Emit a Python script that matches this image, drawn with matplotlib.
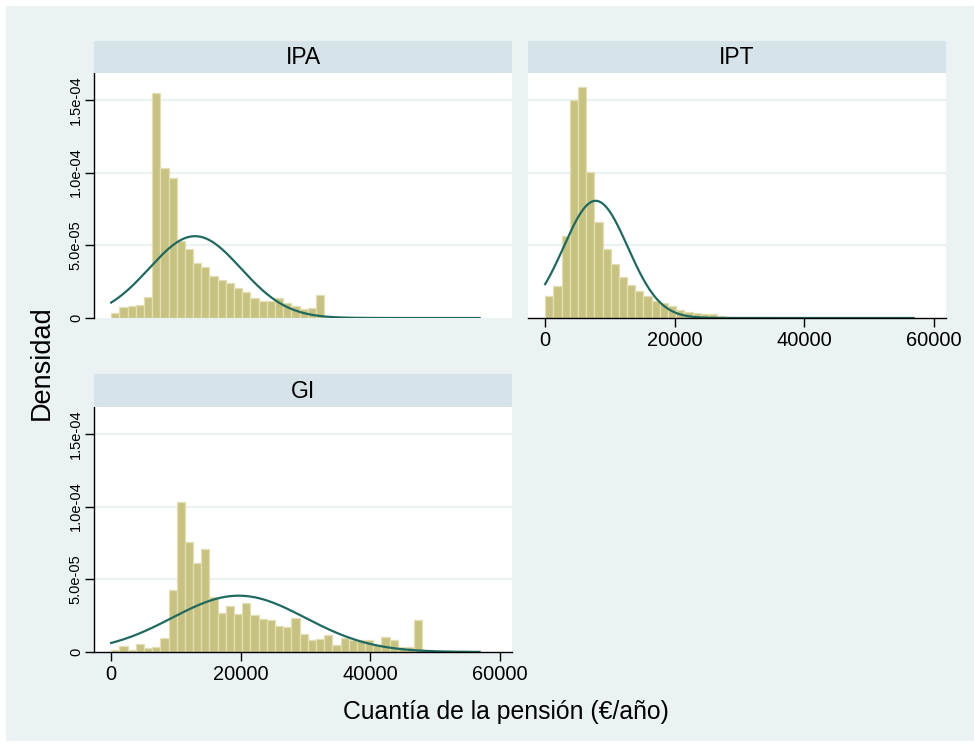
import numpy as np
import matplotlib
matplotlib.use("Agg")
import matplotlib.pyplot as plt
from matplotlib.patches import Rectangle

plt.rcParams['font.family'] = ['Liberation Sans', 'DejaVu Sans']

# ---------------- data ----------------
groups = ["IPA", "IPT", "GI"]
bin_start = 0
bin_width = 1265
n_bins = 45

ipa_density = [3.4e-6, 7.3e-6, 8.5e-6, 9.2e-6, 1.42e-5, 1.55e-4, 1.031e-4, 9.62e-5,
               5.33e-5, 4.75e-5, 3.76e-5, 3.54e-5, 2.92e-5, 2.64e-5, 2.39e-5, 2.07e-5,
               1.77e-5, 1.35e-5, 1.19e-5, 1.19e-5, 1.35e-5, 1.03e-5, 8.0e-6, 6.4e-6,
               6.9e-6, 1.61e-5, 4e-7, 3e-7, 2e-7, 2e-7, 1e-7, 1e-7, 1e-7, 0, 0,
               0, 0, 0, 0, 0, 0, 0, 0, 0, 0]
ipt_density = [1.54e-5, 2.18e-5, 5.65e-5, 1.501e-4, 1.589e-4, 1.003e-4, 6.63e-5, 4.75e-5,
               3.74e-5, 2.84e-5, 2.26e-5, 1.86e-5, 1.49e-5, 1.19e-5, 1.0e-5, 8.1e-6,
               5.7e-6, 4.1e-6, 3.2e-6, 3.0e-6, 2.6e-6, 1.6e-6, 1.0e-6, 7e-7, 6e-7,
               5e-7, 4e-7, 4e-7, 3e-7, 3e-7, 3e-7, 2e-7, 2e-7, 2e-7, 2e-7, 2e-7,
               1e-7, 2e-7, 1e-7, 1e-7, 1e-7, 1e-7, 1e-7, 0, 0]
gi_density = [1.6e-6, 4.4e-6, 1.6e-6, 5.7e-6, 3.0e-6, 3.4e-6, 9.6e-6, 4.29e-5,
              1.031e-4, 7.58e-5, 6.13e-5, 7.09e-5, 3.79e-5, 2.71e-5, 3.17e-5, 2.62e-5,
              3.37e-5, 2.53e-5, 2.25e-5, 2.18e-5, 1.79e-5, 1.70e-5, 2.36e-5, 1.24e-5,
              8.0e-6, 8.7e-6, 1.15e-5, 4.6e-6, 9.4e-6, 8.5e-6, 8.5e-6, 8.0e-6,
              4.5e-6, 1.03e-5, 8.0e-6, 3.4e-6, 3.4e-6, 2.18e-5, 1.6e-6, 8e-7,
              3e-7, 2e-7, 1e-7, 0, 0]
densities = {"IPA": ipa_density, "IPT": ipt_density, "GI": gi_density}

# normal overlay: (mean, sd)
normal_mean = {"IPA": 12950, "IPT": 7800, "GI": 19700}
normal_sd = {"IPA": 7090, "IPT": 4950, "GI": 10300}
curve_min, curve_max = 0, 56900

x_ticks = [0, 20000, 40000, 60000]
x_tick_labels = ["0", "20000", "40000", "60000"]
y_ticks = [0, 5e-5, 1e-4, 1.5e-4]
y_tick_labels = ["0", "5.0e-05", "1.0e-04", "1.5e-04"]
x_label = "Cuantía de la pensión (€/año)"
y_label = "Densidad"

# ---------------- style ----------------
W, H = 974, 747
BG = "#EAF2F3"
STRIP = "#D6E4E9"
GRID = "#EAF2F3"
BAR = "#C8C280"
BAR_EDGE = "#E2DFB6"
LINE = "#1F6A60"
XLIM = (-2650, 61900)
YLIM = (0, 1.685e-4)

fig = plt.figure(figsize=(W / 100, H / 100), dpi=100)
fig.patch.set_facecolor("white")
fig.patches.append(Rectangle((6 / W, 1 - 741 / H), (974 - 6) / W, (741 - 6) / H,
                             transform=fig.transFigure, facecolor=BG, edgecolor="none",
                             zorder=-10))


def fbox(x0, y0, x1, y1):
    return [x0 / W, 1 - y1 / H, (x1 - x0) / W, (y1 - y0) / H]


panels = {
    "IPA": dict(plot=(94, 73, 512, 318), strip=(94, 41, 512, 73), left=True, bottom=False),
    "IPT": dict(plot=(528, 73, 946, 318), strip=(528, 41, 946, 73), left=False, bottom=True),
    "GI": dict(plot=(94, 407, 512, 652), strip=(94, 374, 512, 407), left=True, bottom=True),
}

for g in groups:
    p = panels[g]
    ax = fig.add_axes(fbox(*p["plot"]))
    ax.set_facecolor("white")
    lefts = bin_start + bin_width * np.arange(n_bins)
    ax.bar(lefts, densities[g], width=bin_width, align="edge", color=BAR,
           edgecolor=BAR_EDGE, linewidth=0.9, zorder=2)
    xs = np.linspace(curve_min, curve_max, 600)
    m, s = normal_mean[g], normal_sd[g]
    ys = np.exp(-0.5 * ((xs - m) / s) ** 2) / (s * np.sqrt(2 * np.pi))
    ax.plot(xs, ys, color=LINE, linewidth=1.6, zorder=3)
    ax.set_xlim(*XLIM)
    ax.set_ylim(*YLIM)
    for yt in y_ticks[1:]:
        ax.axhline(yt, color=GRID, linewidth=1.6, zorder=1)
    for side in ["top", "right"]:
        ax.spines[side].set_visible(False)
    ax.spines["left"].set_visible(p["left"])
    ax.spines["bottom"].set_visible(p["bottom"])
    ax.spines["left"].set_linewidth(1.0)
    ax.spines["bottom"].set_linewidth(1.0)
    ax.spines["bottom"].set_zorder(4)
    if p["left"]:
        ax.set_yticks(y_ticks)
        ax.set_yticklabels(y_tick_labels, rotation=90, va="center", fontsize=10.5)
        ax.tick_params(axis="y", length=6.5, width=1.0, pad=1.5)
    else:
        ax.set_yticks([])
    if p["bottom"]:
        ax.set_xticks(x_ticks)
        ax.set_xticklabels(x_tick_labels, fontsize=14.4)
        ax.tick_params(axis="x", length=6.5, width=1.0, pad=3)
    else:
        ax.set_xticks([])

    sax = fig.add_axes(fbox(*p["strip"]))
    sax.set_facecolor(STRIP)
    sax.set_xticks([])
    sax.set_yticks([])
    for sp in sax.spines.values():
        sp.set_visible(False)
    sax.text(0.5, 0.47, g, ha="center", va="center", fontsize=16.5,
             transform=sax.transAxes)

fig.text(506 / W, 1 - 712 / H, x_label, ha="center", va="center", fontsize=17.8)
fig.text(42 / W, 1 - 363 / H, y_label, ha="center", va="center", rotation=90,
         fontsize=19.5)

fig.savefig("out.png", dpi=100, facecolor=fig.get_facecolor())
